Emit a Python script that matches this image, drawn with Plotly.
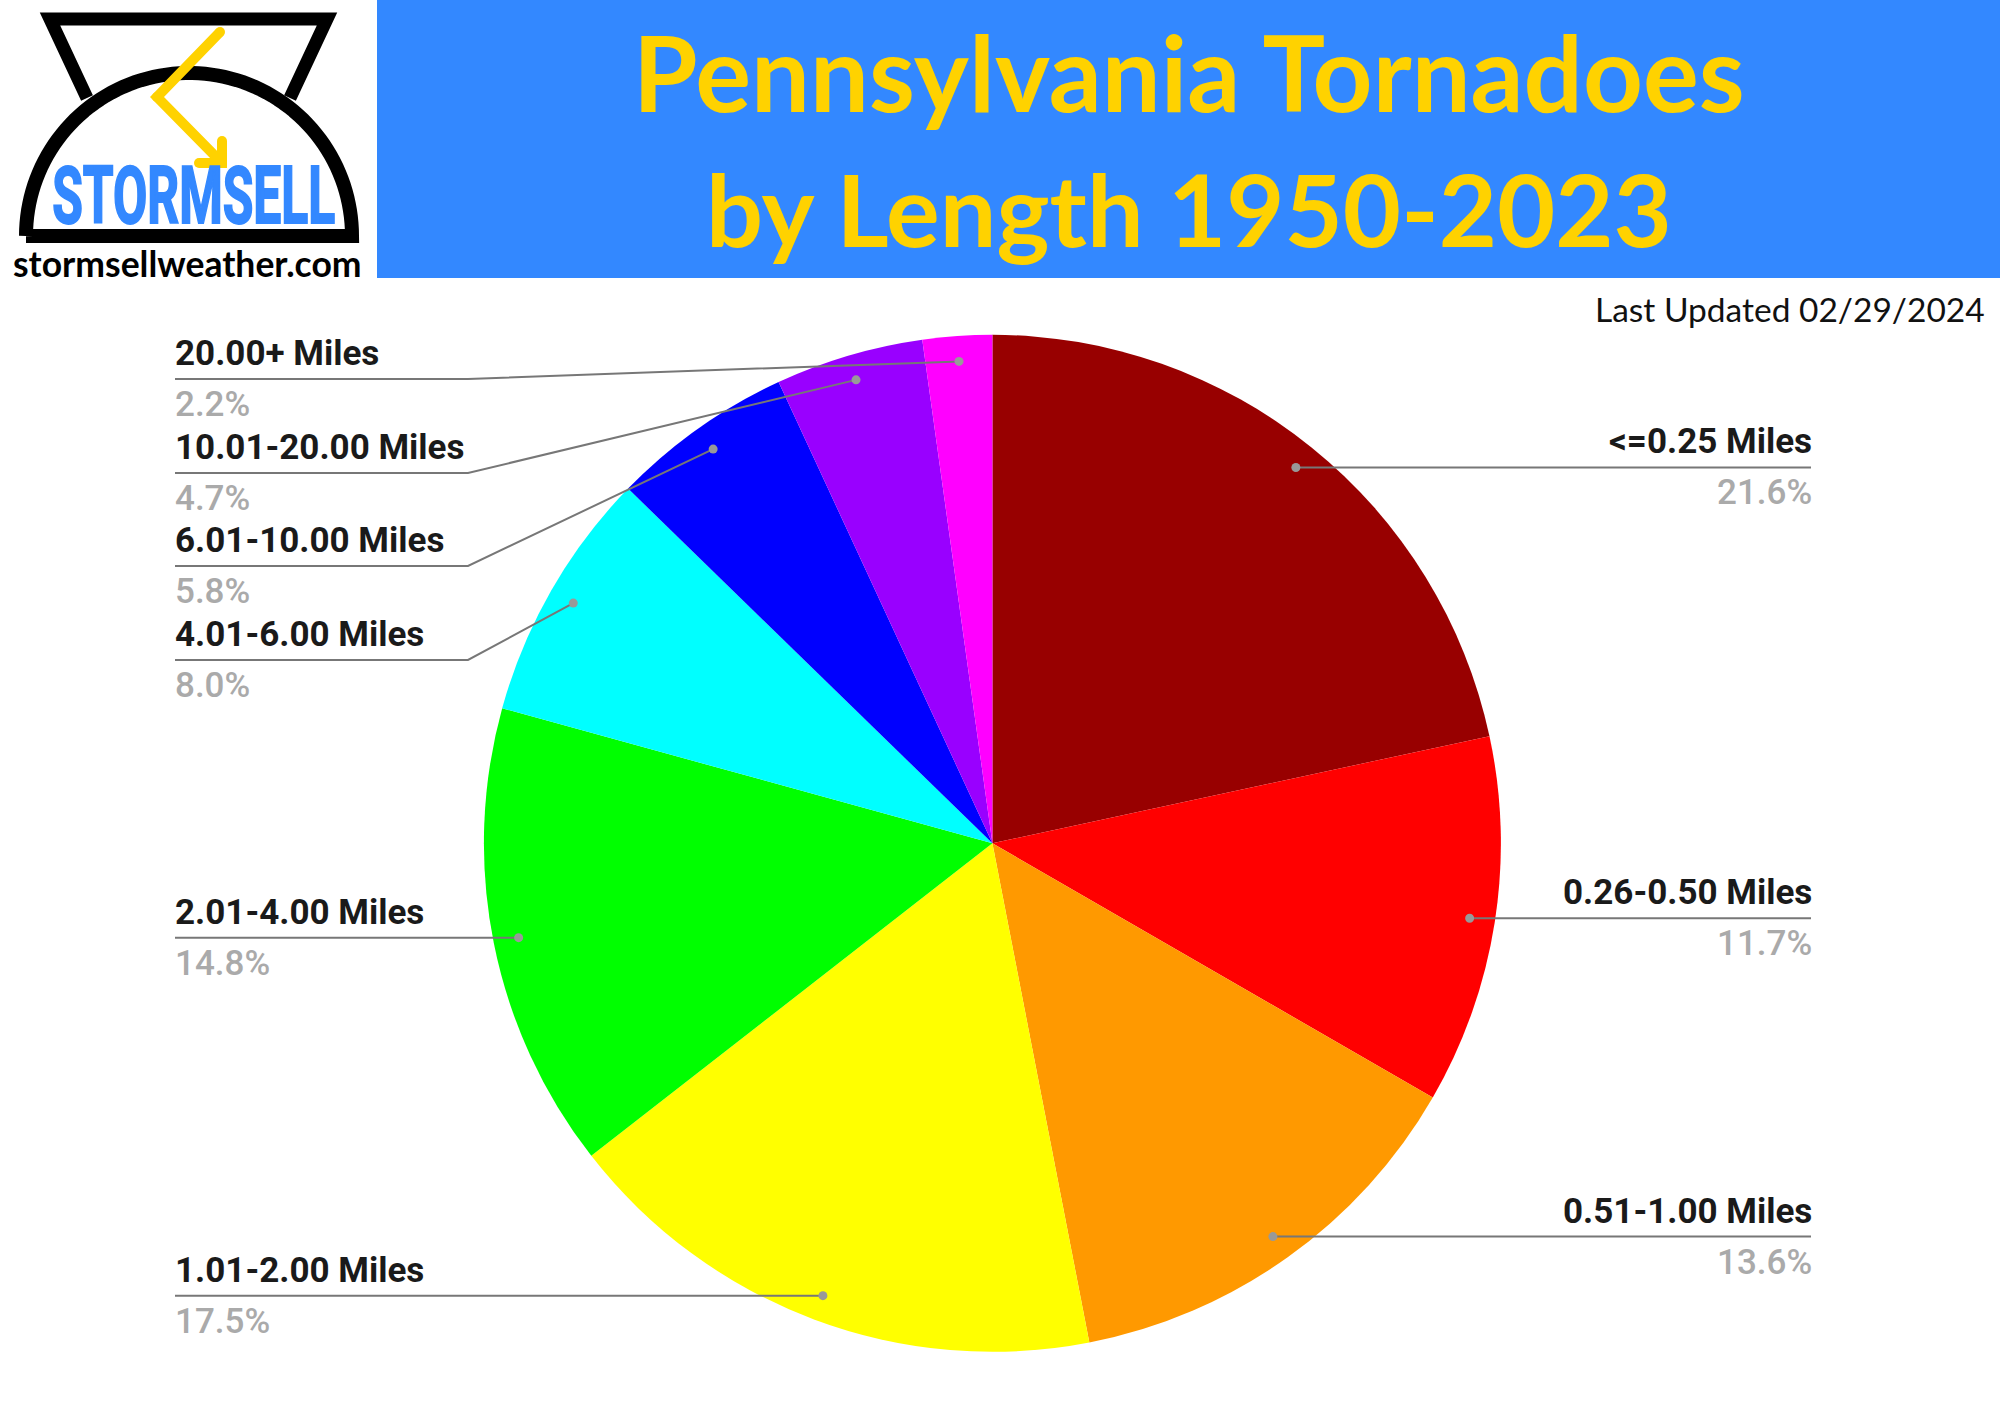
import numpy as np
import plotly.graph_objects as go

# Data
lengths = ["<=0.25 Miles", "0.26-0.50 Miles", "0.51-1.00 Miles", "1.01-2.00 Miles", "2.01-4.00 Miles",
           "4.01-6.00 Miles", "6.01-10.00 Miles", "10.01-20.00 Miles", "20.00+ Miles"]
percents = [21.6, 11.7, 13.6, 17.5, 14.8, 8.0, 5.8, 4.7, 2.2]
slice_colors = ["#980000", "#ff0000", "#ff9900", "#ffff00", "#00ff00", "#00ffff", "#0000ff", "#9900ff", "#ff00ff"]
title_lines = ["Pennsylvania Tornadoes", "by Length 1950-2023"]
updated_text = "Last Updated 02/29/2024"
logo_name = "STORMSELL"
logo_site = "stormsellweather.com"

W, H = 2000, 1414
BLUE = "#3388ff"
YELLOW = "#ffd200"

# pie geometry in pixels
cx, cy, radius = 992.4, 843.3, 508.5


def px(x):
    return x / W


def py(y):
    return 1 - y / H


def to_paper(points):
    return "M " + " L ".join(f"{px(x):.5f},{py(y):.5f}" for x, y in points)


shapes = []
annotations = []


def add_text(x, y, text, size, color, family="Roboto", weight=700, anchor="center"):
    annotations.append(dict(x=px(x), y=py(y), xref="paper", yref="paper", text=text, showarrow=False,
                            xanchor=anchor, yanchor="middle",
                            font=dict(family=family, size=size, color=color, weight=weight)))


def add_line(points, color, width):
    shapes.append(dict(type="path", path=to_paper(points), xref="paper", yref="paper",
                       line=dict(color=color, width=width)))


def add_dot(x, y, r, color):
    shapes.append(dict(type="circle", xref="paper", yref="paper", x0=px(x - r), x1=px(x + r),
                       y0=py(y + r), y1=py(y - r), fillcolor=color, line=dict(width=0)))


# header band
shapes.append(dict(type="rect", xref="paper", yref="paper", x0=px(377), x1=1, y0=py(278), y1=1,
                   fillcolor=BLUE, line=dict(width=0)))
add_text(1189, 72, title_lines[0], 104.5, YELLOW, family="Lato")
add_text(1189, 208, title_lines[1], 100.5, YELLOW, family="Lato")
add_text(1987, 309, updated_text, 33.5, "#111111", family="Lato", weight=400, anchor="right")

# logo
add_line([(87, 98), (50, 19), (327, 19), (290, 98)], "#000000", 13)
ang = np.linspace(np.pi, 0, 80)
dome = [(189 + 163 * np.cos(a), 236 - 163 * np.sin(a)) for a in ang]
add_line(dome + [(26, 236)], "#000000", 14)
add_line([(220, 32), (157, 97), (222, 163)], YELLOW, 10)
add_line([(222, 141), (222, 163), (199, 163)], YELLOW, 10)
for bx, by in [(220, 32), (157, 97), (222, 141), (222, 163), (199, 163)]:
    add_dot(bx, by, 5, YELLOW)
add_text(193.5, 196, logo_name, 79, BLUE)
add_text(187.5, 263, logo_site, 35.5, "#000000", family="Lato")

# callouts, dots sit at 95% of the radius on each slice's middle angle
left_x, right_x = 175, 1811
elbow_x = 468
elbow_y = {"4.01-6.00 Miles": 660, "6.01-10.00 Miles": 566, "10.01-20.00 Miles": 473, "20.00+ Miles": 379}
total = sum(percents)
running = 0
for name, pct in zip(lengths, percents):
    mid = (running + pct / 2) / total * 2 * np.pi
    running += pct
    dx = cx + 0.95 * radius * np.sin(mid)
    dy = cy - 0.95 * radius * np.cos(mid)
    on_right = dx > cx
    if name in elbow_y:
        ly = elbow_y[name]
        add_line([(left_x, ly), (elbow_x, ly), (dx, dy)], "#777777", 2)
    else:
        ly = dy
        add_line([(right_x if on_right else left_x, ly), (dx, dy)], "#777777", 2)
    add_dot(dx, dy, 4.5, "#999999")
    tx = right_x + 2.5 if on_right else left_x - 2.5
    anchor = "right" if on_right else "left"
    add_text(tx, ly - 25.5, name, 35, "#1a1a1a", anchor=anchor)
    add_text(tx, ly + 25.5, f"{pct:.1f}%", 35, "#aaaaaa", weight=500, anchor=anchor)

fig = go.Figure(go.Pie(
    labels=lengths, values=percents, sort=False, direction="clockwise", rotation=0,
    marker=dict(colors=slice_colors, line=dict(width=0)), textinfo="none", showlegend=False,
    domain=dict(x=[px(cx - radius), px(cx + radius)], y=[py(cy + radius), py(cy - radius)]),
))
fig.update_layout(width=W, height=H, margin=dict(l=0, r=0, t=0, b=0), paper_bgcolor="white",
                  shapes=shapes, annotations=annotations)

# no page margin, and squeeze the logo wordmark to its condensed width
post_js = """
document.body.style.margin = '0';
document.querySelectorAll('.annotation-text').forEach(function (t) {
    if (t.textContent !== 'STORMSELL') return;
    var b = t.getBBox();
    var mid = b.x + b.width / 2;
    t.setAttribute('transform', 'translate(' + mid + ',0) scale(' + (283 / b.width) + ',1) translate(' + (-mid) + ',0)');
    t.style.stroke = '#3388ff';
    t.style.strokeWidth = '2px';
});
"""
fig.write_html("out.html", post_script=post_js, config={"displayModeBar": False})
